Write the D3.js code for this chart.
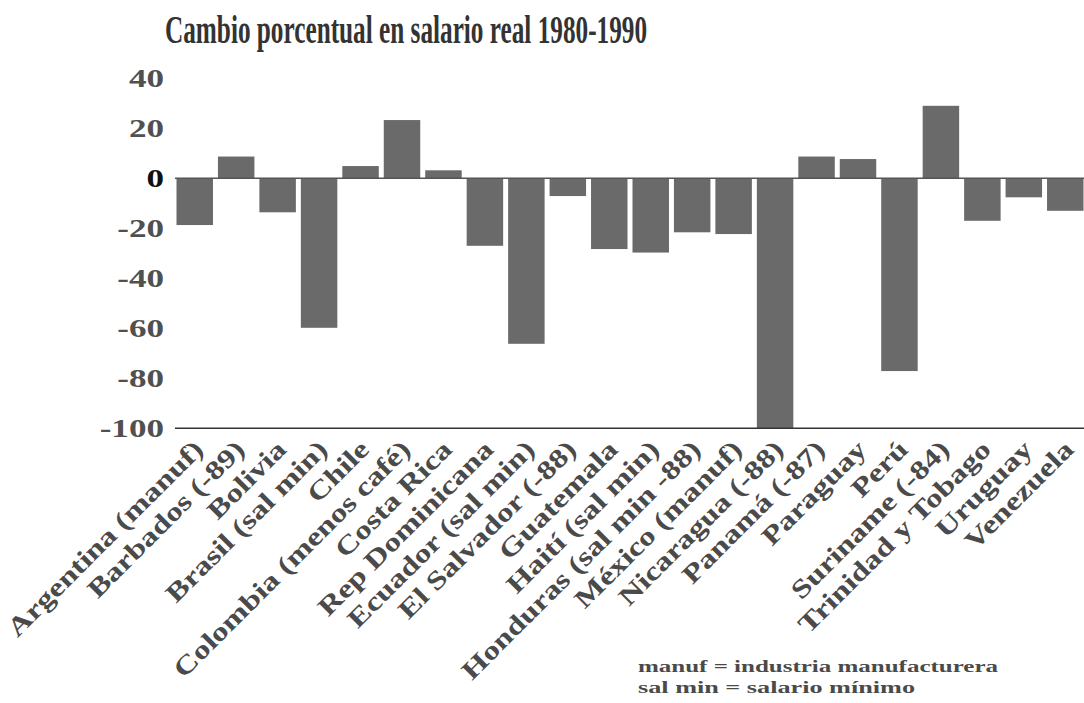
<!DOCTYPE html>
<html>
<head>
<meta charset="utf-8">
<script src="https://cdn.jsdelivr.net/npm/d3@7"></script>
<style>
  html, body { margin: 0; padding: 0; background: #fff; }
  svg { display: block; }
  text { font-family: "Liberation Serif", "Times New Roman", serif; font-weight: bold; }
</style>
</head>
<body>
<svg id="chart" width="1084" height="703"></svg>
<script>
const titleText = "Cambio porcentual en salario real 1980-1990";
const categories = ["Argentina (manuf)", "Barbados (-89)", "Bolivia", "Brasil (sal min)", "Chile",
  "Colombia (menos café)", "Costa Rica", "Rep Dominicana", "Ecuador (sal min)", "El Salvador (-88)",
  "Guatemala", "Haití (sal min)", "Honduras (sal min -88)", "México (manuf)", "Nicaragua (-88)",
  "Panamá (-87)", "Paraguay", "Perú", "Suriname (-84)", "Trinidad y Tobago", "Uruguay", "Venezuela"];
const values = [-18.7, 8.7, -13.6, -59.8, 4.9, 23.3, 3.2, -27, -66.2, -7.1,
  -28.3, -29.7, -21.6, -22.3, -100, 8.7, 7.7, -77.1, 29, -17, -7.6, -13];
const yTicks = [40, 20, 0, -20, -40, -60, -80, -100];
const notes = ["manuf = industria manufacturera", "sal min = salario mínimo"];

const svg = d3.select("#chart");
const x = d3.scaleBand().domain(categories).range([174, 1086]).paddingInner(0.12).paddingOuter(0.06);
const y = d3.scaleLinear().domain([-100, 40]).range([428.3, 78.3]);

// title
svg.append("text")
  .attr("x", 165).attr("y", 43)
  .attr("font-size", 40)
  .attr("fill", "#333")
  .attr("textLength", 482).attr("lengthAdjust", "spacingAndGlyphs")
  .text(titleText);

// y tick labels
svg.append("g").selectAll("text").data(yTicks).join("text")
  .attr("transform", d => `translate(164,${y(d)}) scale(1.35,1)`)
  .attr("text-anchor", "end")
  .attr("dy", "0.35em")
  .attr("font-size", 26)
  .attr("fill", d => d === 0 ? "#111" : "#505050")
  .text(d => d);

// bars
svg.append("g").selectAll("rect").data(values).join("rect")
  .attr("x", (d, i) => x(categories[i]))
  .attr("width", x.bandwidth())
  .attr("y", d => y(Math.max(0, d)))
  .attr("height", d => Math.abs(y(d) - y(0)))
  .attr("fill", "#6a6a6a");

// zero line and bottom axis line
svg.append("line")
  .attr("x1", 175).attr("x2", 1084)
  .attr("y1", y(0)).attr("y2", y(0))
  .attr("stroke", "#555").attr("stroke-width", 1.5);
svg.append("line")
  .attr("x1", 175).attr("x2", 1084)
  .attr("y1", y(-100)).attr("y2", y(-100))
  .attr("stroke", "#333").attr("stroke-width", 1.5);

// category labels
svg.append("g").selectAll("text").data(categories).join("text")
  .attr("transform", d => `translate(${x(d) + x.bandwidth() / 2 + 10},451) rotate(-45) scale(1.27,1)`)
  .attr("text-anchor", "end")
  .attr("font-size", 26)
  .attr("fill", "#4a4a4a")
  .text(d => d);

// footnote
svg.append("g").selectAll("text").data(notes).join("text")
  .attr("x", 638)
  .attr("y", (d, i) => 672 + i * 21)
  .attr("font-size", 16)
  .attr("fill", "#4a4a4a")
  .attr("textLength", (d, i) => i === 0 ? 360 : 277)
  .attr("lengthAdjust", "spacingAndGlyphs")
  .text(d => d);
</script>
</body>
</html>
